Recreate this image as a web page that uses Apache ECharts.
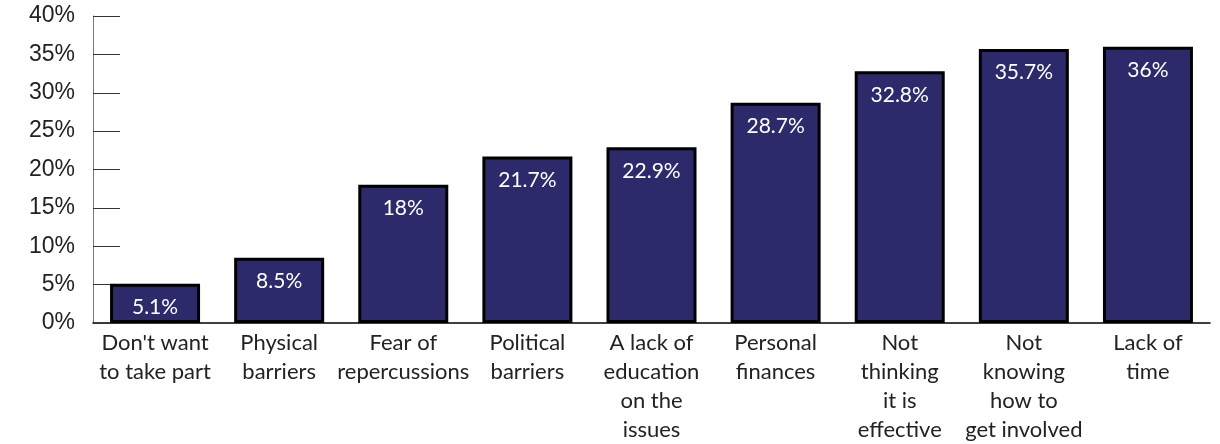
<!DOCTYPE html>
<html>
<head>
<meta charset="utf-8">
<style>
  html, body { margin: 0; padding: 0; background: #fff; overflow: hidden; }
  #chart { width: 1220px; height: 444px; }
</style>
<script src="https://cdn.jsdelivr.net/npm/echarts@6/dist/echarts.min.js"></script>
</head>
<body>
<div id="chart"></div>
<script>
// Reasons for not getting involved, share of respondents (%)
const categories = [
  "Don't want\nto take part",
  "Physical\nbarriers",
  "Fear of\nrepercussions",
  "Political\nbarriers",
  "A lack of\neducation\non the\nissues",
  "Personal\nfinances",
  "Not\nthinking\nit is\neffective",
  "Not\nknowing\nhow to\nget involved",
  "Lack of\ntime"
];
const values = [5.1, 8.5, 18, 21.7, 22.9, 28.7, 32.8, 35.7, 36];
const yTicks = [0, 5, 10, 15, 20, 25, 30, 35, 40];

const chart = echarts.init(document.getElementById('chart'));
chart.setOption({
  animation: false,
  grid: { left: 93, right: 10, top: 16, bottom: 118, containLabel: false },
  xAxis: {
    type: 'category',
    data: categories,
    axisLine: { lineStyle: { color: '#000', width: 1.5 } },
    axisTick: { inside: true, length: 6, lineStyle: { color: '#888' } },
    axisLabel: {
      interval: 0,
      margin: 5,
      color: '#222',
      fontFamily: 'Lato',
      fontSize: 22,
      lineHeight: 29
    }
  },
  yAxis: {
    type: 'value',
    min: yTicks[0],
    max: yTicks[yTicks.length - 1],
    interval: 5,
    splitLine: { show: false },
    axisLine: { show: true, lineStyle: { color: '#777', width: 1 } },
    axisTick: { show: true, inside: true, length: 27, lineStyle: { color: '#333' } },
    axisLabel: {
      margin: 18,
      color: '#222',
      fontFamily: 'Liberation Sans',
      fontSize: 23,
      padding: [6, 0, 0, 0],
      formatter: v => v + '%'
    }
  },
  series: [{
    type: 'bar',
    data: values,
    barWidth: 90,
    itemStyle: { color: '#2d2a6b', borderColor: '#000', borderWidth: 3 },
    label: {
      show: true,
      position: 'insideTop',
      distance: 13,
      color: '#fff',
      fontFamily: 'Lato',
      fontSize: 21,
      formatter: p => p.value + '%'
    }
  }]
});
</script>
</body>
</html>
